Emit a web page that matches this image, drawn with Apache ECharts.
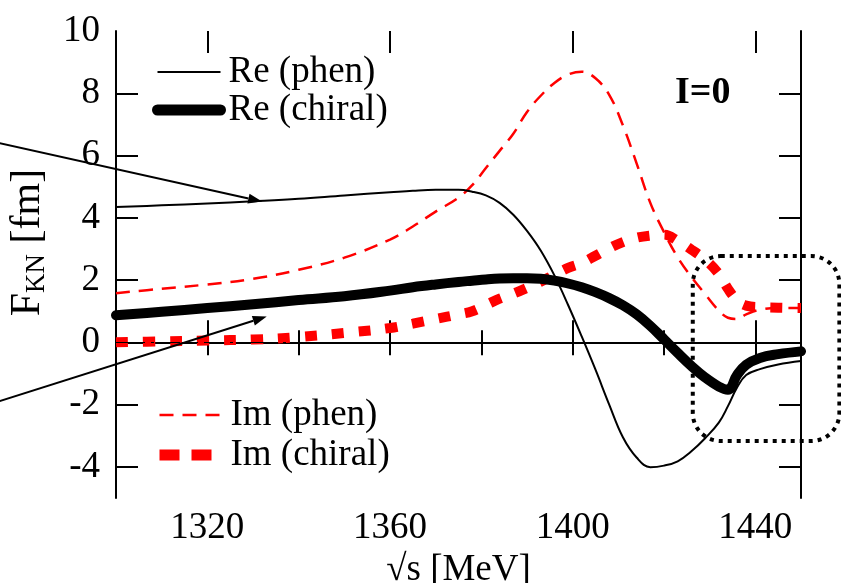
<!DOCTYPE html>
<html>
<head>
<meta charset="utf-8">
<script src="https://cdn.jsdelivr.net/npm/echarts@6/dist/echarts.min.js"></script>
<style>
  html, body { margin: 0; padding: 0; background: #fff; }
  #chart { width: 841px; height: 583px; }
</style>
</head>
<body>
<div id="chart"></div>
<script>
  // sqrt(s) in MeV
  const energies = [1300, 1310, 1320, 1330, 1340, 1350, 1360, 1365, 1370, 1375, 1378, 1381, 1384, 1387, 1390,
    1393, 1396, 1399, 1402, 1405, 1408, 1411, 1414, 1417, 1420, 1423, 1426, 1429, 1432, 1434, 1436, 1438,
    1441, 1445, 1450];

  // F_KN [fm], I=0
  const rePhen = [4.35, 4.40, 4.46, 4.53, 4.61, 4.72, 4.82, 4.87, 4.90, 4.90, 4.84, 4.72, 4.48, 4.10, 3.58,
    2.95, 2.15, 1.20, 0.18, -0.88, -2.00, -3.05, -3.70, -4.01, -3.96, -3.82, -3.50, -3.08, -2.58, -2.05, -1.45, -1.05,
    -0.86, -0.71, -0.60];
  const reChiral = [0.87, 0.98, 1.10, 1.22, 1.36, 1.48, 1.66, 1.77, 1.86, 1.94, 1.98, 2.02, 2.05, 2.06, 2.06,
    2.04, 1.98, 1.89, 1.77, 1.61, 1.42, 1.19, 0.90, 0.53, 0.10, -0.34, -0.76, -1.13, -1.42, -1.52, -1.05, -0.72,
    -0.50, -0.38, -0.29];
  const imPhen = [1.58, 1.72, 1.86, 2.04, 2.33, 2.72, 3.30, 3.72, 4.20, 4.65, 5.05, 5.60, 6.15, 6.70, 7.40,
    7.92, 8.33, 8.60, 8.69, 8.48, 7.95, 6.97, 5.75, 4.48, 3.54, 2.73, 2.10, 1.55, 1.02, 0.79, 0.75, 0.90,
    1.05, 1.10, 1.10];
  const imChiral = [0.00, 0.03, 0.06, 0.09, 0.17, 0.30, 0.46, 0.60, 0.75, 0.90, 1.00, 1.20, 1.40, 1.56, 1.75,
    1.95, 2.17, 2.39, 2.55, 2.78, 3.02, 3.22, 3.36, 3.43, 3.46, 3.26, 2.98, 2.66, 2.20, 1.72, 1.35, 1.18,
    1.13, 1.11, 1.10];

  const xLabelValues = [1320, 1360, 1400, 1440];
  const xMinorTickValues = [1320, 1340, 1360, 1380, 1400, 1420, 1440];
  const yLabelValues = [-4, -2, 0, 2, 4, 6, 8, 10];
  const yTickValues = [-4, -2, 0, 2, 4, 6, 8];

  const FONT = '"Liberation Serif", "Times New Roman", serif';

  const pairs = (ys) => energies.map((e, i) => [e, ys[i]]);

  const chart = echarts.init(document.getElementById('chart'));

  // both grids share one rectangle; the second one only carries the long ticks and labels
  const gridRect = { left: 116, right: 40, top: 31, bottom: 85, outerBoundsMode: 'none', containLabel: false };
  const frameLine = { show: true, lineStyle: { color: '#000', width: 2 } };
  const tickStyle = { color: '#000', width: 2 };

  const option = {
    animation: false,
    backgroundColor: '#fff',
    grid: [
      Object.assign({}, gridRect),
      Object.assign({}, gridRect),
    ],
    xAxis: [
      {
        type: 'value', gridIndex: 0, position: 'bottom', min: 1300, max: 1450,
        axisLine: frameLine,
        axisTick: { inside: true, length: 12, customValues: xMinorTickValues, lineStyle: tickStyle },
        axisLabel: { show: false },
        splitLine: { show: false },
      },
      {
        type: 'value', gridIndex: 0, position: 'top', min: 1300, max: 1450,
        axisLine: frameLine,
        axisTick: { inside: true, length: 13, customValues: xMinorTickValues, lineStyle: tickStyle },
        axisLabel: { show: false },
        splitLine: { show: false },
      },
      {
        type: 'value', gridIndex: 1, position: 'bottom', min: 1300, max: 1450,
        axisLine: { show: false },
        axisTick: { inside: true, length: 22, customValues: xLabelValues, lineStyle: tickStyle },
        axisLabel: {
          customValues: xLabelValues, margin: 12,
          formatter: (v) => String(v),
          color: '#000', fontFamily: FONT, fontSize: 37,
        },
        splitLine: { show: false },
        name: '√s [MeV]',
        nameLocation: 'middle',
        nameGap: 50,
        nameTextStyle: { color: '#000', fontFamily: FONT, fontSize: 37 },
      },
      {
        type: 'value', gridIndex: 1, position: 'top', min: 1300, max: 1450,
        axisLine: { show: false },
        axisTick: { inside: true, length: 22, customValues: xLabelValues, lineStyle: tickStyle },
        axisLabel: { show: false },
        splitLine: { show: false },
      },
    ],
    yAxis: [
      {
        type: 'value', gridIndex: 0, position: 'left', min: -5, max: 10,
        axisLine: frameLine,
        axisTick: { inside: true, length: 22, customValues: yTickValues, lineStyle: tickStyle },
        axisLabel: {
          customValues: yLabelValues, margin: 16,
          color: '#000', fontFamily: FONT, fontSize: 37,
        },
        splitLine: { show: false },
        name: '{a|F}{s|KN}{b| [fm]}',
        nameLocation: 'middle',
        nameGap: 66,
        nameTextStyle: {
          color: '#000',
          fontFamily: FONT,
          rich: {
            a: { fontFamily: FONT, fontSize: 42, color: '#000', padding: [0, 0, 0, 44] },
            s: { fontFamily: FONT, fontSize: 27, color: '#000', padding: [18, 0, 0, 0] },
            b: { fontFamily: FONT, fontSize: 42, color: '#000' },
          },
        },
      },
      {
        type: 'value', gridIndex: 0, position: 'right', min: -5, max: 10,
        axisLine: frameLine,
        axisTick: { inside: true, length: 22, customValues: yTickValues, lineStyle: tickStyle },
        axisLabel: { show: false },
        splitLine: { show: false },
      },
      {
        type: 'value', gridIndex: 1, min: -5, max: 10, show: false,
      },
    ],
    legend: [
      {
        orient: 'vertical',
        left: 152,
        top: 53,
        padding: 0,
        itemGap: 0,
        itemWidth: 63,
        itemHeight: 14,
        selectedMode: false,
        textStyle: { color: '#000', fontFamily: FONT, fontSize: 37, lineHeight: 38, padding: [0, 0, 0, 3] },
        data: [
          { name: 'Re (phen)', itemStyle: { opacity: 0 }, lineStyle: { width: 2, color: '#000', type: 'solid' } },
          { name: 'Re (chiral)', itemStyle: { opacity: 0 }, lineStyle: { width: 11, color: '#000', type: 'solid' } },
        ],
      },
      {
        orient: 'vertical',
        left: 154,
        top: 395,
        padding: 0,
        itemGap: 0,
        itemWidth: 63,
        itemHeight: 14,
        selectedMode: false,
        textStyle: { color: '#000', fontFamily: FONT, fontSize: 37, lineHeight: 40, padding: [0, 0, 0, 3] },
        data: [
          { name: 'Im (phen)', itemStyle: { opacity: 0 }, lineStyle: { width: 2.5, color: '#ff0000', type: [14, 9] } },
          { name: 'Im (chiral)', itemStyle: { opacity: 0 }, lineStyle: { width: 11, color: '#ff0000', type: [20, 12] } },
        ],
      },
    ],
    series: [
      {
        name: 'Im (chiral)',
        type: 'line',
        xAxisIndex: 0, yAxisIndex: 0,
        data: pairs(imChiral),
        showSymbol: false, symbol: 'none',
        smooth: 0.4,
        lineStyle: { color: '#ff0000', width: 10, type: [12, 15] },
        itemStyle: { color: '#ff0000' },
        z: 2,
      },
      {
        name: 'Im (phen)',
        type: 'line',
        xAxisIndex: 0, yAxisIndex: 0,
        data: pairs(imPhen),
        showSymbol: false, symbol: 'none',
        smooth: 0.4,
        lineStyle: { color: '#ff0000', width: 2.5, type: [14, 9] },
        itemStyle: { color: '#ff0000' },
        z: 3,
      },
      {
        name: 'Re (chiral)',
        type: 'line',
        xAxisIndex: 0, yAxisIndex: 0,
        data: pairs(reChiral),
        showSymbol: false, symbol: 'none',
        smooth: 0.4,
        lineStyle: { color: '#000', width: 10, cap: 'round', join: 'round' },
        itemStyle: { color: '#000' },
        z: 4,
      },
      {
        name: 'Re (phen)',
        type: 'line',
        xAxisIndex: 0, yAxisIndex: 0,
        data: pairs(rePhen),
        showSymbol: false, symbol: 'none',
        smooth: 0.4,
        lineStyle: { color: '#000', width: 2, join: 'round' },
        itemStyle: { color: '#000' },
        z: 5,
        markLine: {
          silent: true,
          symbol: ['none', 'none'],
          label: { show: false },
          lineStyle: { color: '#000', width: 1, type: [20, 6, 3, 6, 3, 6] },
          data: [{ yAxis: 0 }],
        },
      },
    ],
  };

  chart.setOption(option);

  // annotations: arrows from outside the frame and the dotted box near threshold
  const arrows = [
    { from: [1274.5, 6.4], to: [1332.0, 4.52] },
    { from: [1274.5, -1.89], to: [1333.0, 0.83] },
  ];
  const boxCorners = { x0: 1426.3, x1: 1458.4, y0: 2.77, y1: -3.17 };

  const px = (p) => chart.convertToPixel({ gridIndex: 0 }, p);

  const graphics = [];
  arrows.forEach((a) => {
    const p0 = px(a.from);
    const p1 = px(a.to);
    const ang = Math.atan2(p1[1] - p0[1], p1[0] - p0[0]);
    const len = 14;
    const half = 5;
    const bx = p1[0] - len * Math.cos(ang);
    const by = p1[1] - len * Math.sin(ang);
    graphics.push({
      type: 'line',
      shape: { x1: p0[0], y1: p0[1], x2: bx, y2: by },
      style: { stroke: '#000', lineWidth: 2 },
      z: 10,
    });
    graphics.push({
      type: 'polygon',
      shape: {
        points: [
          [p1[0], p1[1]],
          [bx + half * Math.sin(ang), by - half * Math.cos(ang)],
          [bx - half * Math.sin(ang), by + half * Math.cos(ang)],
        ],
      },
      style: { fill: '#000' },
      z: 10,
    });
  });

  const b0 = px([boxCorners.x0, boxCorners.y0]);
  const b1 = px([boxCorners.x1, boxCorners.y1]);
  graphics.push({
    type: 'rect',
    shape: { x: b0[0], y: b0[1], width: b1[0] - b0[0], height: b1[1] - b0[1], r: 28 },
    style: { fill: 'none', stroke: '#000', lineWidth: 4, lineDash: [4, 5] },
    z: 10,
  });

  graphics.push({
    type: 'text',
    left: 675,
    top: 74,
    style: { text: 'I=0', font: 'bold 38px "Liberation Serif", serif', fill: '#000' },
    z: 10,
  });

  chart.setOption({ graphic: graphics });

  window.addEventListener('resize', () => chart.resize());
</script>
</body>
</html>
